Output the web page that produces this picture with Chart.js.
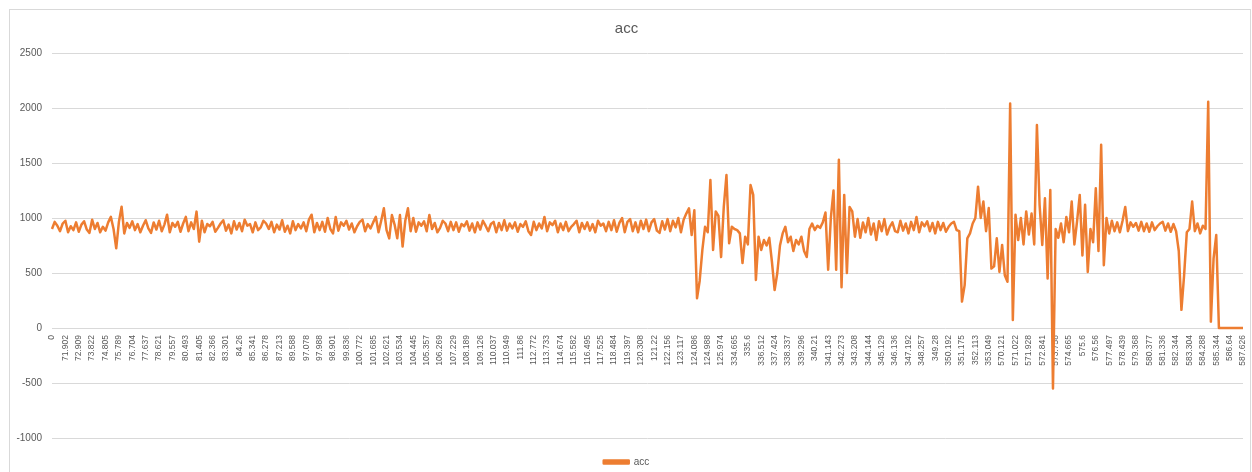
<!DOCTYPE html>
<html>
<head>
<meta charset="utf-8">
<title>acc</title>
<script src="https://cdn.jsdelivr.net/npm/chart.js"></script>
<style>
  html, body { margin: 0; padding: 0; background: #fff; }
  #wrap { position: relative; width: 1252px; height: 472px; overflow: hidden; }
  #frame { position: absolute; left: 9px; top: 9px; width: 1240px; height: 480px; border: 1px solid #d9d9d9; pointer-events: none; }
  canvas { position: absolute; left: 0; top: 0; }
</style>
</head>
<body>
<div id="wrap">
  <div id="frame"></div>
  <canvas id="chart" width="1252" height="472"></canvas>
</div>
<script>
const seriesName = "acc";

// category labels that Excel shows (every 5th point)
const tickLabels = [
  "0", "71.902", "72.909", "73.822", "74.805", "75.789", "76.704", "77.637", "78.621", "79.557",
  "80.493", "81.405", "82.366", "83.301", "84.26", "85.341", "86.278", "87.213", "89.588", "97.078",
  "97.988", "98.901", "99.836", "100.772", "101.685", "102.621", "103.534", "104.445", "105.357", "106.269",
  "107.229", "108.189", "109.126", "110.037", "110.949", "111.86", "112.772", "113.733", "114.674", "115.582",
  "116.495", "117.525", "118.484", "119.397", "120.308", "121.22", "122.156", "123.117", "124.086", "124.988",
  "125.974", "334.665", "335.6", "336.512", "337.424", "338.337", "339.296", "340.21", "341.143", "342.273",
  "343.208", "344.144", "345.129", "346.136", "347.192", "348.257", "349.28", "350.192", "351.175", "352.113",
  "353.049", "570.121", "571.022", "571.928", "572.841", "573.758", "574.665", "575.6", "576.56", "577.497",
  "578.439", "579.368", "580.377", "581.336", "582.344", "583.304", "584.288", "585.344", "586.64", "587.626"
];
const pointsPerLabel = 5;

// acc values
const accValues = [
  900, 965, 930, 880, 950, 975, 870, 925, 890, 960,
  875, 940, 970, 895, 865, 985, 900, 955, 870, 920,
  885, 960, 1010, 900, 724, 965, 1103, 860, 955, 910,
  970, 890, 945, 870, 930, 980, 905, 865, 960, 895,
  975, 880, 940, 1030, 870, 955, 920, 965, 875, 950,
  1010, 880, 960, 900, 1058, 785, 975, 870, 945, 925,
  965, 875, 910, 950, 980, 885, 940, 860, 970, 895,
  955, 880, 985, 930, 945, 870, 960, 890, 915, 975,
  950, 900, 965, 870, 940, 895, 980, 875, 930, 860,
  970, 890, 945, 905, 960, 880, 985, 1030, 870, 955,
  890, 965, 875, 1000, 900, 860, 1010, 885, 960, 930,
  975, 895, 950, 870, 925, 965, 985, 880, 945, 905,
  960, 1010, 870, 975, 1088, 890, 815, 1027, 940, 815,
  1027, 740, 975, 1088, 880, 1000, 875, 960, 930, 970,
  880, 1027, 900, 955, 870, 910, 975, 950, 880, 965,
  890, 960, 875, 945, 925, 970, 885, 950, 870, 960,
  895, 975, 930, 880, 945, 965, 870, 955, 890, 980,
  885, 950, 905, 960, 875, 945, 920, 970, 880, 845,
  965, 890, 950, 905, 1010, 880, 960, 935, 975, 870,
  950, 890, 965, 880, 920, 945, 975, 870, 955, 900,
  960, 885, 945, 870, 975, 930, 950, 880, 965, 890,
  980, 875, 955, 1000, 870, 965, 990, 880, 960, 870,
  975, 900, 985, 880, 960, 990, 885, 865, 970, 895,
  990, 880, 975, 915, 1000, 870, 985, 1040, 1088, 845,
  1070, 270, 430, 710, 920, 870, 1345, 710, 1060, 1020,
  645, 1100, 1390, 770, 920, 900, 890, 860, 590, 830,
  760, 1300, 1210, 436, 830, 710, 800, 750, 820, 600,
  345, 500, 750, 860, 920, 780, 830, 700, 800, 760,
  830, 700, 645, 900, 950, 890, 930, 910, 960, 1050,
  530, 1000, 1250, 530, 1530, 370, 1210, 500, 1100, 1060,
  830, 990, 820, 960, 870, 1000, 850, 950, 800, 970,
  880, 990, 850, 920, 960, 880, 870, 975, 885, 950,
  860, 965, 890, 1010, 870, 960, 925, 970, 880, 955,
  860, 965, 890, 955, 875, 920, 950, 965, 890, 880,
  240, 390, 815, 860, 950, 1000, 1285, 1000, 1150, 880,
  1090, 540, 560, 815, 510, 755, 480, 420, 2040, 73,
  1030, 800, 1000, 760, 1060, 850, 1040, 760, 1845, 1120,
  755, 1180, 450, 1255, -550, 900, 820, 950, 780, 1010,
  870, 1150, 760, 970, 1210, 660, 1120, 510, 900, 780,
  1270, 700, 1665, 570, 1000, 860, 975, 880, 960, 870,
  975, 1100, 880, 960, 920, 955, 885, 965, 880, 950,
  875, 960, 890, 925, 950, 965, 885, 950, 875, 945,
  880, 700, 165, 480, 870, 900, 1150, 880, 950, 860,
  930, 900, 2057, 58, 630, 845, 0, 0, 0, 0,
  0, 0, 0, 0, 0, 0
];

const yMin = -1000;
const yMax = 2500;
const yStep = 500;

// full label list: shown label on every 5th point, blank in between
const xLabels = accValues.map((v, i) => (i % pointsPerLabel === 0 ? tickLabels[i / pointsPerLabel] || "" : ""));

const fontFamily = "'Liberation Sans', Arial, sans-serif";
const textColor = "#595959";

new Chart(document.getElementById("chart"), {
  type: "line",
  data: {
    labels: xLabels,
    datasets: [
      {
        label: seriesName,
        data: accValues,
        borderColor: "#ED7D31",
        backgroundColor: "#ED7D31",
        borderWidth: 2.5,
        pointRadius: 0,
        tension: 0,
        borderJoinStyle: "round",
      },
    ],
  },
  options: {
    responsive: false,
    animation: false,
    layout: { padding: { left: 10, right: 9, top: 0, bottom: -5 } },
    plugins: {
      title: {
        display: true,
        text: "acc",
        color: textColor,
        font: { family: fontFamily, size: 15, weight: "normal" },
        padding: { top: 20, bottom: 15 },
      },
      legend: {
        position: "bottom",
        labels: {
          boxWidth: 25,
          boxHeight: 3,
          padding: 19,
          color: textColor,
          font: { family: fontFamily, size: 10 },
        },
      },
      tooltip: { enabled: false },
    },
    scales: {
      x: {
        position: { y: 0 },
        grid: { display: false, drawTicks: false },
        border: { display: false },
        ticks: {
          autoSkip: false,
          minRotation: 90,
          maxRotation: 90,
          padding: 7,
          color: textColor,
          font: { family: fontFamily, size: 8.5 },
        },
        afterFit(scale) {
          scale.paddingLeft = 0;
          scale.paddingRight = 0;
        },
      },
      y: {
        min: yMin,
        max: yMax,
        ticks: {
          stepSize: yStep,
          padding: 10,
          color: textColor,
          font: { family: fontFamily, size: 10 },
          callback: (v) => String(v),
        },
        grid: { color: "#d9d9d9", drawTicks: false },
        border: { display: false },
        afterFit(scale) {
          scale.width = 42;
        },
      },
    },
  },
});
</script>
</body>
</html>
